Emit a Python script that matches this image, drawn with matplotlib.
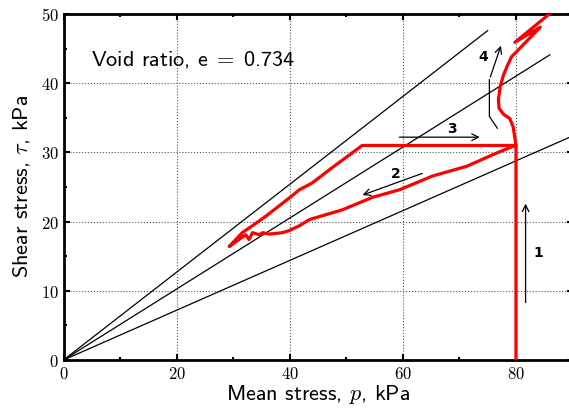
import matplotlib
matplotlib.use('Agg')
import matplotlib.pyplot as plt
import numpy as np
from matplotlib.ticker import MultipleLocator, FuncFormatter

plt.rcParams['mathtext.fontset'] = 'cm'
plt.rcParams['axes.formatter.use_mathtext'] = True

# stress path (mean stress p, shear stress tau), kPa
path_p = [80.0, 80.0, 80.0, 79.5, 76.0, 71.3, 65.3, 59.4, 54.6, 49.3, 46.4, 43.5, 41.7, 39.9,
          38.7, 36.4, 35.2, 34.6, 33.4, 32.8, 32.2, 31.0, 29.3,
          31.6, 33.4, 35.8, 39.9, 41.7, 44.0, 47.5, 50.0, 52.8, 80.0,
          79.5, 78.9, 77.8, 77.0, 76.9, 77.2, 77.8, 78.4, 79.2, 84.3, 79.8, 85.9, 87.0]
path_t = [0.0, 15.0, 31.0, 30.9, 29.7, 28.0, 26.6, 24.6, 23.5, 21.7, 21.0, 20.3, 19.4, 18.7,
          18.4, 18.2, 18.4, 18.1, 18.4, 17.4, 18.1, 17.4, 16.4,
          18.4, 19.4, 20.8, 23.4, 24.6, 25.6, 27.8, 29.3, 31.0, 31.0,
          33.7, 34.9, 35.5, 36.4, 37.6, 39.5, 41.2, 42.4, 43.8, 48.1, 45.9, 50.0, 50.8]

# reference lines through origin: end points
line_p = [75.0, 86.0, 89.8]
line_t = [47.6, 44.1, 32.3]

fig = plt.figure(figsize=(5.69, 4.09), dpi=100)
ax = fig.add_axes([0.1116, 0.1198, 0.8946, 0.846])

for lp, lt in zip(line_p, line_t):
    ax.plot([0, lp], [0, lt], color='black', lw=0.9)

ax.plot(path_p, path_t, color='#ff0000', lw=2.3, solid_joinstyle='round', zorder=5)

arr = dict(arrowstyle='->', color='black', lw=0.9, mutation_scale=12)
ax.annotate('', xy=(81.7, 23.0), xytext=(81.7, 7.9), arrowprops=arr)
ax.annotate('', xy=(52.4, 23.7), xytext=(63.9, 27.1), arrowprops=arr)
ax.annotate('', xy=(74.1, 32.2), xytext=(58.9, 32.2), arrowprops=arr)
ax.plot([76.7, 75.3, 75.3], [33.5, 35.2, 40.5], color='black', lw=0.9)
ax.annotate('', xy=(77.5, 45.8), xytext=(75.3, 40.5), arrowprops=arr)

for s, x, y in [('1', 83.9, 15.5), ('2', 58.7, 26.9), ('3', 68.6, 33.4), ('4', 74.3, 43.8)]:
    ax.text(x, y, s, fontsize=10, fontweight='bold', ha='center', va='center')

ax.text(4.9, 43.4, r'Void ratio, e$\;=\;$0.734', fontsize=16, va='center', family='cmss10')

ax.set_xlim(0, 90)
ax.set_ylim(0, 50)
ax.xaxis.set_major_locator(MultipleLocator(20))
ax.xaxis.set_minor_locator(MultipleLocator(10))
ax.yaxis.set_major_locator(MultipleLocator(10))
ax.yaxis.set_minor_locator(MultipleLocator(5))
fmt = FuncFormatter(lambda v, pos: r'$%d$' % v)
ax.xaxis.set_major_formatter(fmt)
ax.yaxis.set_major_formatter(fmt)
ax.tick_params(which='both', direction='in', top=True, right=True, labelsize=12, width=1.5)
ax.tick_params(which='major', length=4)
ax.tick_params(which='minor', length=2.5)
ax.grid(True, which='major', linestyle=':', color='#555555', lw=0.8)
for sp in ax.spines.values():
    sp.set_linewidth(2)

ax.set_xlabel(r'Mean stress, $p$, kPa', fontsize=16, labelpad=0, family='cmss10')
ax.set_ylabel(r'Shear stress, $\tau$, kPa', fontsize=16, labelpad=6, family='cmss10')

fig.savefig('out.png', dpi=100)
